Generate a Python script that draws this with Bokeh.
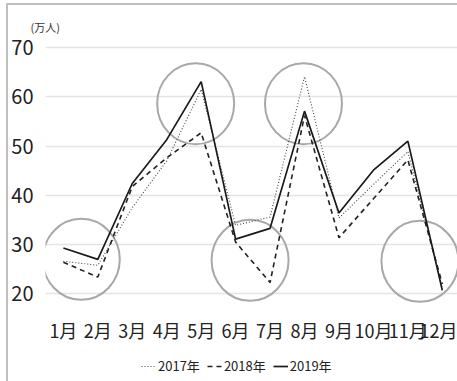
from bokeh.plotting import figure
from bokeh.layouts import column
from bokeh.models import FixedTicker, Legend, LegendItem, Range1d
from bokeh.embed import file_html
from bokeh.resources import INLINE

# Monthly visitors (10,000 persons)
months = ["1月", "2月", "3月", "4月", "5月", "6月",
          "7月", "8月", "9月", "10月", "11月", "12月"]
visitors_2017 = [26.6, 25.8, 37.5, 47.0, 61.5, 33.9, 35.6, 64.1, 35.4, 42.2, 48.9, 21.2]
visitors_2018 = [26.4, 23.4, 41.8, 47.6, 52.7, 30.5, 22.3, 56.2, 31.4, 39.3, 47.2, 22.0]
visitors_2019 = [29.3, 27.0, 42.4, 51.3, 63.1, 31.1, 33.3, 57.1, 36.4, 45.1, 51.0, 20.7]
y_ticks = [20, 30, 40, 50, 60, 70]
series_labels = ["2017年", "2018年", "2019年"]

# Highlight rings around notable spots (month position, value)
ring_x = [1.52, 4.84, 6.42, 7.97, 11.35]
ring_y = [27.0, 58.6, 26.8, 58.6, 26.6]

month_pos = list(range(1, len(months) + 1))
series = [visitors_2017, visitors_2018, visitors_2019]

FONT = "Noto Sans CJK JP"
STYLES = [
    dict(line_color="#444444", line_width=1.1, line_dash="1 2"),
    dict(line_color="#222222", line_width=1.6, line_dash="5 4"),
    dict(line_color="#1a1a1a", line_width=1.7),
]

p = figure(
    width=449, height=340,
    output_backend="svg", toolbar_location=None,
    x_range=Range1d(0.481, 12.441), y_range=Range1d(17.63, 71.44),
    min_border_left=34, min_border_right=0, min_border_top=35, min_border_bottom=33,
    title="(万人)",
)
p.outline_line_color = None
p.background_fill_color = "white"
p.border_fill_color = "white"

p.title.text_font = FONT
p.title.text_font_size = "11px"
p.title.text_font_style = "normal"
p.title.text_color = "#333333"
p.title.align = "left"
p.title.offset = -15
p.title.standoff = 12

# Axes (no tick marks, so nothing extra widens the axis panels)
for ax in (p.xaxis[0], p.yaxis[0]):
    ax.axis_line_color = None
    ax.major_tick_line_color = None
    ax.minor_tick_line_color = None
    ax.major_tick_out = 0
    ax.major_tick_in = 0
    ax.minor_tick_out = 0
    ax.minor_tick_in = 0
    ax.major_label_text_font = FONT
    ax.major_label_text_color = "#222222"

p.yaxis.ticker = FixedTicker(ticks=y_ticks)
p.yaxis.major_label_text_font_size = "20px"
p.yaxis.major_label_standoff = 12

p.xaxis.ticker = FixedTicker(ticks=month_pos)
p.xaxis.major_label_overrides = {i: m for i, m in zip(month_pos, months)}
p.xaxis.major_label_text_font_size = "18px"
p.xaxis.major_label_standoff = 11

p.xgrid.grid_line_color = None
p.ygrid.ticker = FixedTicker(ticks=y_ticks)
p.ygrid.grid_line_color = "#e4e4e4"
p.ygrid.grid_line_width = 1.5

# Rings
p.ellipse(x=ring_x, y=ring_y, width=77, height=81,
          width_units="screen", height_units="screen",
          fill_color=None, line_color="#a8a8a8", line_width=2)

# Series
for values, style in zip(series, STYLES):
    p.line(month_pos, values, **style)

# Legend strip under the chart (its own ranges keep the series out of view)
leg = figure(
    width=449, height=36,
    output_backend="svg", toolbar_location=None,
    x_range=Range1d(100, 101), y_range=Range1d(100, 101),
    x_axis_location=None, y_axis_location=None,
    min_border=0, outline_line_color=None,
)
leg.grid.visible = False
leg.border_fill_color = "white"
legend_renderers = [leg.line(month_pos, values, **style) for values, style in zip(series, STYLES)]

legend = Legend(
    items=[LegendItem(label=lab, renderers=[r]) for lab, r in zip(series_labels, legend_renderers)],
    orientation="horizontal",
    location=(96, 6),
    glyph_width=15, glyph_height=14,
    label_standoff=2, spacing=7,
    padding=0, margin=0,
    label_text_font=FONT,
    label_text_font_size="13px",
    label_text_color="#222222",
    label_height=14,
    border_line_color=None,
    background_fill_alpha=0,
)
leg.add_layout(legend, "center")

layout = column(p, leg, spacing=0)
layout.styles = {
    "border-top": "2px solid #c0c0c0",
    "border-left": "2px solid #c0c0c0",
    "margin-left": "6px",
    "margin-top": "3px",
}

open("out.html", "w").write(file_html(layout, INLINE))
